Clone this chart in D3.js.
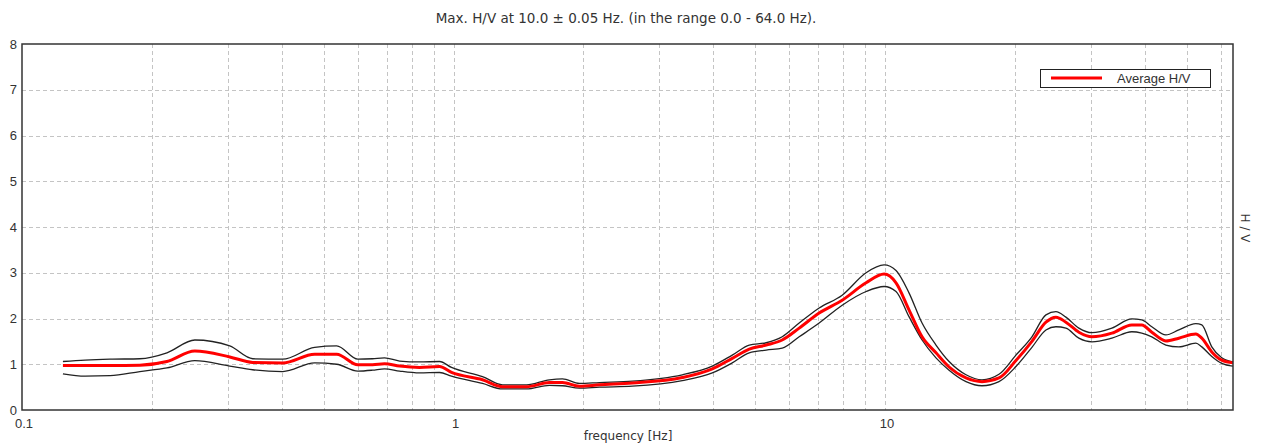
<!DOCTYPE html>
<html><head><meta charset="utf-8">
<script src="https://cdn.jsdelivr.net/npm/d3@7"></script>
<style>body{margin:0;background:#fff;}svg{display:block;}text{font-family:"DejaVu Sans",Verdana,sans-serif;}</style>
</head><body><svg id="c" width="1261" height="446"></svg>
<script>
const freq = [0.1244,0.140,0.160,0.1875,0.2167,0.2515,0.303,0.3425,0.402,0.4766,0.536,0.600,0.649,0.692,0.750,0.834,0.928,0.989,1.167,1.299,1.476,1.668,1.788,1.957,2.178,2.597,3.389,3.977,4.424,4.844,5.303,5.775,6.323,7.034,7.953,9.036,9.947,10.6,11.36,12.18,13.12,14.07,15.40,16.77,18.36,20.10,21.89,23.59,24.88,26.24,28.12,30.15,33.54,37.30,39.34,41.50,44.73,47.93,52.48,54.19,57.15,60.27,64.0];
const avgHV = [0.97,0.97,0.97,0.98,1.06,1.29,1.16,1.04,1.03,1.22,1.22,0.99,0.99,1.01,0.96,0.93,0.95,0.82,0.66,0.51,0.51,0.60,0.60,0.52,0.55,0.59,0.71,0.90,1.13,1.33,1.42,1.53,1.79,2.12,2.40,2.78,2.97,2.78,2.19,1.60,1.25,0.94,0.70,0.62,0.70,1.08,1.50,1.92,2.03,1.92,1.70,1.60,1.68,1.86,1.86,1.70,1.51,1.57,1.66,1.57,1.27,1.09,1.03];
const upperHV = [1.06,1.09,1.11,1.12,1.25,1.53,1.40,1.12,1.11,1.37,1.40,1.11,1.12,1.14,1.07,1.05,1.06,0.93,0.73,0.55,0.55,0.66,0.68,0.58,0.60,0.63,0.77,0.96,1.20,1.42,1.47,1.60,1.90,2.23,2.51,3.00,3.17,3.05,2.56,1.90,1.42,1.06,0.77,0.66,0.78,1.20,1.60,2.08,2.15,2.03,1.79,1.69,1.79,1.99,1.97,1.82,1.64,1.75,1.89,1.86,1.38,1.14,1.05];
const lowerHV = [0.79,0.74,0.75,0.84,0.92,1.08,0.96,0.88,0.84,1.03,1.00,0.85,0.87,0.90,0.85,0.81,0.82,0.74,0.58,0.46,0.46,0.54,0.53,0.48,0.50,0.52,0.64,0.81,1.03,1.25,1.31,1.35,1.60,1.90,2.29,2.59,2.70,2.59,2.04,1.53,1.14,0.87,0.62,0.53,0.62,0.95,1.37,1.75,1.82,1.79,1.57,1.49,1.57,1.71,1.68,1.60,1.42,1.38,1.46,1.38,1.17,1.02,0.96];
const xTickLabels = [0.1, 1, 10];
const yTicks = [0,1,2,3,4,5,6,7,8];
const titleText = "Max. H/V at 10.0 \u00b1 0.05 Hz. (in the range 0.0 - 64.0 Hz).";
const xLabel = "frequency [Hz]";
const yLabel = "H / V";
const legendLabel = "Average H/V";

const L=22, R=1233, T=44, B=410;
const svg = d3.select("#c");
const x = d3.scaleLog().domain([0.1,64]).range([L,R]);
const y = d3.scaleLinear().domain([0,8]).range([B,T]);
const tickFont = '"Liberation Sans",Arial,sans-serif';

const gridF = [];
[0.1,1,10].forEach(d=>{for(let k=1;k<10;k++){const v=d*k; if(v>0.1 && v<64) gridF.push(v);}});
const g = svg.append("g");
g.selectAll("line.vg").data(gridF).join("line")
  .attr("x1",d=>Math.round(x(d))+0.5).attr("x2",d=>Math.round(x(d))+0.5)
  .attr("y1",T).attr("y2",B)
  .attr("stroke","#c4c4c4").attr("stroke-dasharray","4,3").attr("stroke-width",1);
g.selectAll("line.hg").data(yTicks.filter(d=>d>0&&d<8)).join("line")
  .attr("x1",L).attr("x2",R)
  .attr("y1",d=>Math.round(y(d))+0.5).attr("y2",d=>Math.round(y(d))+0.5)
  .attr("stroke","#c4c4c4").attr("stroke-dasharray","4,3").attr("stroke-width",1);

const line = (arr)=>d3.line().x((d,i)=>x(freq[i])).y(d=>y(d)).curve(d3.curveMonotoneX)(arr);
svg.append("path").attr("d",line(upperHV)).attr("fill","none").attr("stroke","#222").attr("stroke-width",1.3);
svg.append("path").attr("d",line(lowerHV)).attr("fill","none").attr("stroke","#222").attr("stroke-width",1.3);
svg.append("path").attr("d",line(avgHV)).attr("fill","none").attr("stroke","#ff0000").attr("stroke-width",3);

svg.append("rect").attr("x",L).attr("y",T).attr("width",R-L).attr("height",B-T)
  .attr("fill","none").attr("stroke","#333").attr("stroke-width",1.5);

svg.selectAll("text.yt").data(yTicks).join("text")
  .attr("x",17).attr("y",d=>y(d)+4.5).attr("text-anchor","end").style("font-family",tickFont)
  .attr("font-size",13).attr("fill","#333").text(d=>d);
svg.selectAll("text.xt").data(xTickLabels).join("text")
  .attr("x",d=>x(d)+2).attr("y",428).attr("text-anchor","middle").style("font-family",tickFont)
  .attr("font-size",13).attr("fill","#333").text(d=>d);
svg.append("text").attr("x",628).attr("y",440).attr("text-anchor","middle")
  .attr("font-size",12).attr("fill","#333").text(xLabel);
svg.append("text").attr("x",626).attr("y",23).attr("text-anchor","middle")
  .attr("font-size",13.5).attr("fill","#333").text(titleText);
svg.append("text").attr("transform","translate(1241,228) rotate(90)").attr("text-anchor","middle")
  .attr("font-size",12).attr("fill","#333").text(yLabel);

const lg = svg.append("g");
lg.append("rect").attr("x",1040.5).attr("y",69.5).attr("width",170).attr("height",18)
  .attr("fill","#fff").attr("stroke","#222").attr("stroke-width",1);
lg.append("line").attr("x1",1051).attr("x2",1102).attr("y1",78).attr("y2",78)
  .attr("stroke","#ff0000").attr("stroke-width",3);
lg.append("text").attr("x",1117).attr("y",83).style("font-family",tickFont)
  .attr("font-size",13).attr("fill","#333").text(legendLabel);
</script></body></html>
